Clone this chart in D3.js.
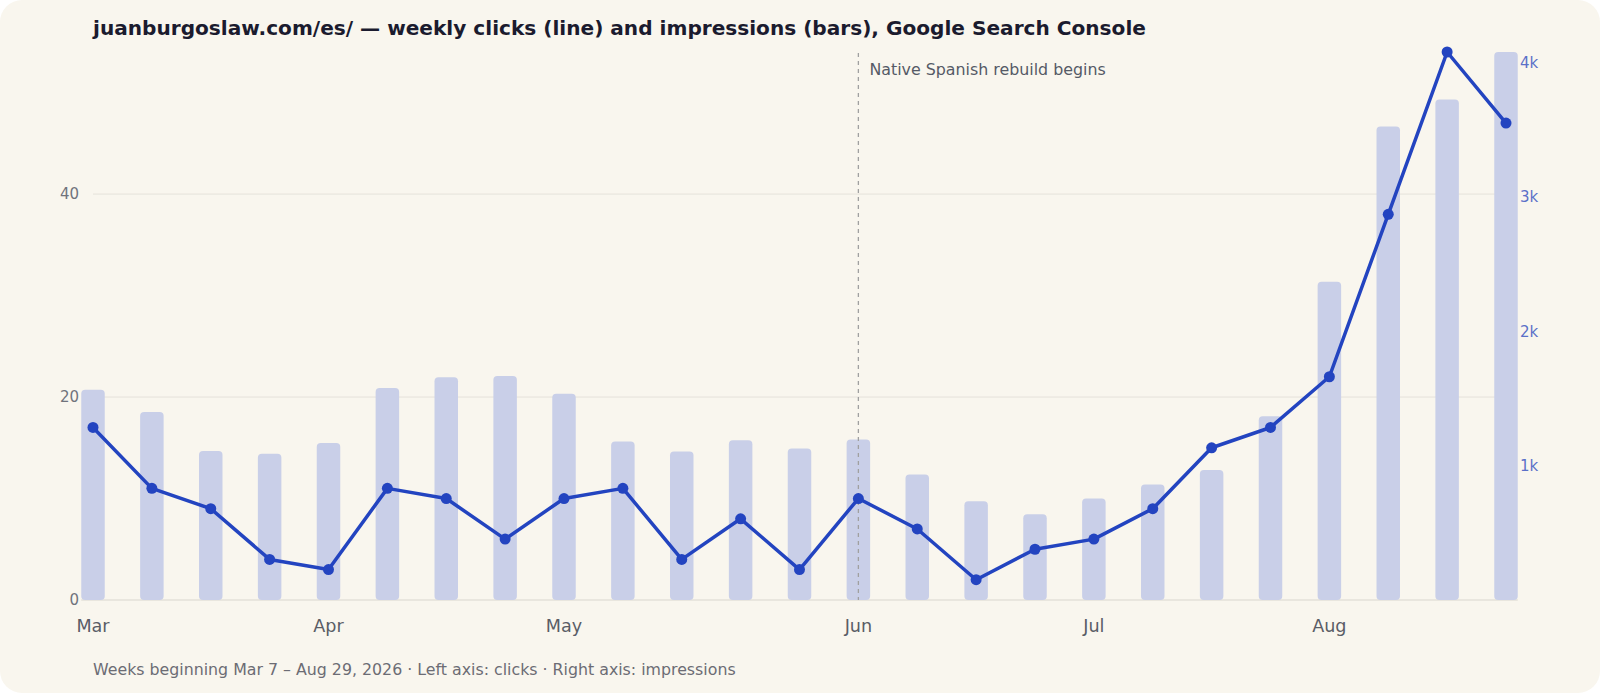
<!DOCTYPE html>
<html>
<head>
<meta charset="utf-8">
<script src="https://cdn.jsdelivr.net/npm/d3@7"></script>
<style>
  html, body { margin: 0; padding: 0; background: #ffffff; }
  svg { display: block; font-family: "DejaVu Sans", sans-serif; }
</style>
</head>
<body>
<script>
// weekly data, weeks beginning Saturday
const weeks = [
  "2026-03-07", "2026-03-14", "2026-03-21", "2026-03-28",
  "2026-04-04", "2026-04-11", "2026-04-18", "2026-04-25",
  "2026-05-02", "2026-05-09", "2026-05-16", "2026-05-23", "2026-05-30",
  "2026-06-06", "2026-06-13", "2026-06-20", "2026-06-27",
  "2026-07-04", "2026-07-11", "2026-07-18", "2026-07-25",
  "2026-08-01", "2026-08-08", "2026-08-15", "2026-08-22"
];
const clicks = [17, 11, 9, 4, 3, 11, 10, 6, 10, 11, 4, 8, 3, 10, 7, 2, 5, 6, 9, 15, 17, 22, 38, 54, 47];
const impressions = [1565, 1400, 1110, 1088, 1168, 1578, 1658, 1668, 1535, 1180, 1105, 1190, 1128, 1195,
  935, 736, 638, 755, 860, 968, 1368, 2370, 3525, 3726, 4080];

const clickTicks = [0, 20, 40];
const impTicks = [1000, 2000, 3000, 4000];
const annotationWeek = "2026-06-06";
const annotationText = "Native Spanish rebuild begins";

const titleText = "juanburgoslaw.com/es/ \u2014 weekly clicks (line) and impressions (bars), Google Search Console";
const footerText = "Weeks beginning Mar 7 \u2013 Aug 29, 2026 \u00b7 Left axis: clicks \u00b7 Right axis: impressions";

const W = 1600, H = 693;
const plotLeft = 93, plotRight = 1506, plotTop = 52, plotBottom = 600;

const svg = d3.select("body").append("svg")
  .attr("width", W)
  .attr("height", H);

// card background
svg.append("rect")
  .attr("width", W).attr("height", H)
  .attr("rx", 22).attr("ry", 22)
  .attr("fill", "#f9f6ee");

const x = d3.scalePoint()
  .domain(weeks)
  .range([plotLeft, plotRight]);

const yC = d3.scaleLinear()
  .domain([0, d3.max(clicks)])
  .range([plotBottom, plotTop]);

const yI = d3.scaleLinear()
  .domain([0, d3.max(impressions)])
  .range([plotBottom, plotTop]);

const barW = 23.5;

// gridlines (left axis)
svg.append("g")
  .selectAll("line")
  .data(clickTicks.filter(d => d > 0))
  .enter().append("line")
  .attr("x1", plotLeft).attr("x2", plotRight)
  .attr("y1", d => yC(d)).attr("y2", d => yC(d))
  .attr("stroke", "#e5e2da")
  .attr("stroke-width", 1);

// baseline
svg.append("line")
  .attr("x1", plotLeft - barW / 2).attr("x2", plotRight + barW / 2)
  .attr("y1", yC(0)).attr("y2", yC(0))
  .attr("stroke", "#e3e0d8")
  .attr("stroke-width", 1.5);

// impressions bars
svg.append("g")
  .selectAll("rect")
  .data(weeks)
  .enter().append("rect")
  .attr("x", d => x(d) - barW / 2)
  .attr("width", barW)
  .attr("y", (d, i) => yI(impressions[i]))
  .attr("height", (d, i) => yI(0) - yI(impressions[i]))
  .attr("rx", 4)
  .attr("fill", "#c9cfe8");

// annotation
const ax = x(annotationWeek);
svg.append("line")
  .attr("x1", ax).attr("x2", ax)
  .attr("y1", plotTop + 1).attr("y2", plotBottom)
  .attr("stroke", "#a0a0a0")
  .attr("stroke-width", 1.3)
  .attr("stroke-dasharray", "4,4");

svg.append("text")
  .attr("x", ax + 11)
  .attr("y", 75)
  .attr("font-size", 15.85)
  .attr("fill", "#555a66")
  .text(annotationText);

// clicks line
const line = d3.line()
  .x((d, i) => x(weeks[i]))
  .y(d => yC(d));

svg.append("path")
  .datum(clicks)
  .attr("d", line)
  .attr("fill", "none")
  .attr("stroke", "#2344c0")
  .attr("stroke-width", 3.5)
  .attr("stroke-linejoin", "round");

svg.append("g")
  .selectAll("circle")
  .data(clicks)
  .enter().append("circle")
  .attr("cx", (d, i) => x(weeks[i]))
  .attr("cy", d => yC(d))
  .attr("r", 5.5)
  .attr("fill", "#2344c0");

// left axis labels
svg.append("g")
  .selectAll("text")
  .data(clickTicks)
  .enter().append("text")
  .attr("x", 79)
  .attr("y", d => yC(d))
  .attr("dy", "0.35em")
  .attr("text-anchor", "end")
  .attr("font-size", 15)
  .attr("fill", "#70737c")
  .text(d => d);

// right axis labels
svg.append("g")
  .selectAll("text")
  .data(impTicks)
  .enter().append("text")
  .attr("x", 1520)
  .attr("y", d => yI(d))
  .attr("dy", "0.35em")
  .attr("font-size", 15)
  .attr("fill", "#5b70c8")
  .text(d => (d / 1000) + "k");

// month labels at the first week of each month
const parse = d3.timeParse("%Y-%m-%d");
const monthWeeks = weeks.filter((d, i) => i === 0 || parse(d).getMonth() !== parse(weeks[i - 1]).getMonth());
svg.append("g")
  .selectAll("text")
  .data(monthWeeks)
  .enter().append("text")
  .attr("x", d => x(d))
  .attr("y", 632)
  .attr("text-anchor", "middle")
  .attr("font-size", 17.6)
  .attr("fill", "#5a5d66")
  .text(d => d3.timeFormat("%b")(parse(d)));

// title and footer
svg.append("text")
  .attr("x", 93)
  .attr("y", 35)
  .attr("font-size", 20.1)
  .attr("font-weight", "bold")
  .attr("fill", "#1b1b2e")
  .text(titleText);

svg.append("text")
  .attr("x", 93)
  .attr("y", 675)
  .attr("font-size", 15.8)
  .attr("fill", "#6c6c74")
  .text(footerText);
</script>
</body>
</html>
